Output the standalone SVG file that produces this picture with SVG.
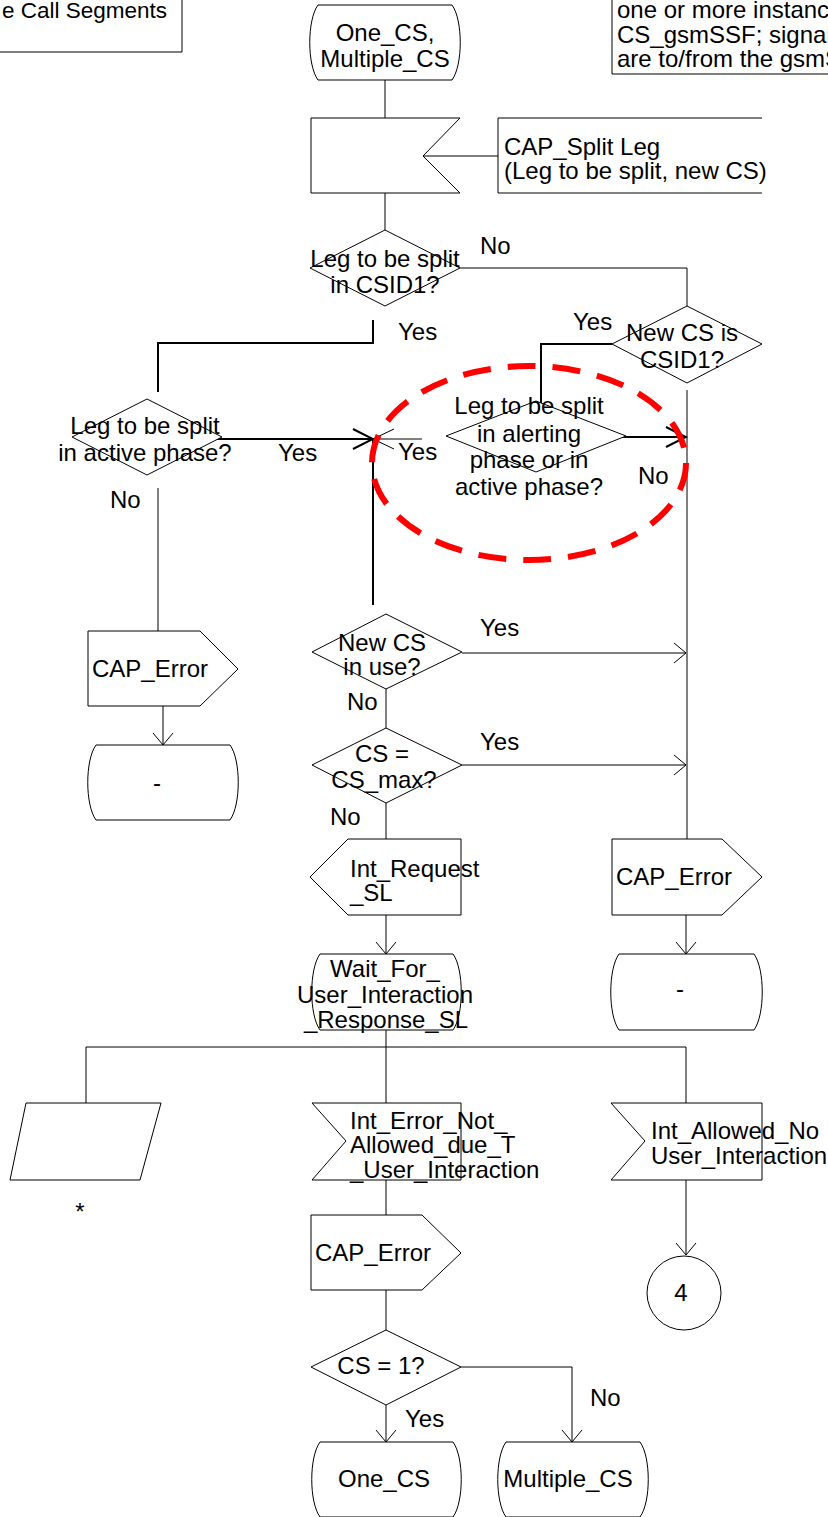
<svg xmlns="http://www.w3.org/2000/svg" width="828" height="1517" viewBox="0 0 828 1517">
<style>
.s{fill:#fff;stroke:#000;stroke-width:1}
.b{fill:none;stroke:#000;stroke-width:1}
.t{font-family:"Liberation Sans",Arial,sans-serif;font-size:24px;fill:#000}
.m{text-anchor:middle}
.c{fill:none;stroke:#000;stroke-width:1}
.c2{fill:none;stroke:#000;stroke-width:2}
</style>
<defs>
<marker id="a" viewBox="-14 -12 16 24" refX="0" refY="0" markerWidth="16" markerHeight="24" markerUnits="userSpaceOnUse" orient="auto">
<path d="M-12,-10 L0,0 L-12,10" fill="none" stroke="#000" stroke-width="1"/>
</marker>
<marker id="ab" viewBox="-22 -12 24 24" refX="0" refY="0" markerWidth="24" markerHeight="24" markerUnits="userSpaceOnUse" orient="auto">
<path d="M-20,-10 L0,0 L-20,10" fill="none" stroke="#000" stroke-width="2"/>
</marker>
<marker id="at" viewBox="-22 -12 24 24" refX="0" refY="0" markerWidth="24" markerHeight="24" markerUnits="userSpaceOnUse" orient="auto">
<path d="M-21,-10 L0,0 L-21,10" fill="none" stroke="#000" stroke-width="1"/>
</marker>
</defs>
<rect width="828" height="1517" fill="#fff"/>

<g id="connectors">
<path class="c" d="M385 80 V118"/>
<path class="c" d="M423 156 H498"/>
<path class="c" d="M385 193 V230"/>
<path class="c" d="M460 268 H687 V306"/>
<path class="c2" d="M373 320 V343 H158 V392"/>
<path class="c2" d="M612 344 H541 V406"/>
<path class="c2" d="M205 439 H373" marker-end="url(#ab)"/>
<path class="c" d="M422 439 H373" stroke="#555" marker-end="url(#at)"/>
<path class="c2" d="M613 437 H686" marker-end="url(#ab)"/>
<path class="c2" d="M373 439 V605"/>
<path class="c" stroke-width="1.5" d="M687 390 V839"/>
<path class="c" d="M158 488 V631"/>
<path class="c" d="M163 706 V745" marker-end="url(#a)"/>
<path class="c" d="M462 653 H686" marker-end="url(#a)"/>
<path class="c" d="M386 689 V728"/>
<path class="c" d="M462 765 H686" marker-end="url(#a)"/>
<path class="c" d="M386 803 V839"/>
<path class="c" d="M386 915 V954" marker-end="url(#a)"/>
<path class="c" d="M686 915 V954" marker-end="url(#a)"/>
<path class="c" d="M386 1030 V1103"/>
<path class="c" d="M86 1103 V1047 H686 V1103"/>
<path class="c" d="M386 1180 V1215"/>
<path class="c" d="M686 1180 V1255" marker-end="url(#a)"/>
<path class="c" d="M386 1290 V1330"/>
<path class="c" d="M386 1405 V1442" marker-end="url(#a)"/>
<path class="c" d="M461 1367 H572 V1442" marker-end="url(#a)"/>
</g>

<g id="note-topleft">
<path class="b" d="M-2 52 H182 V-2"/>
<text class="t" x="167" y="18" text-anchor="end" style="font-size:22.5px">e Call Segments</text>
</g>

<g id="note-topright">
<path class="b" d="M830 74 H612 V-2"/>
<text class="t" x="617" y="18">one or more instanc</text>
<text class="t" x="617" y="43">CS_gsmSSF; signal</text>
<text class="t" x="617" y="67">are to/from the gsmS</text>
</g>

<g id="start-state">
<path class="s" d="M318 5 H452 C463 20 463 65 452 80 H318 C307 65 307 20 318 5 Z"/>
<text class="t m" x="385" y="41">One_CS,</text>
<text class="t m" x="385" y="67">Multiple_CS</text>
</g>

<g id="input-split-leg">
<path class="s" d="M311 118 H460 L423 156 L460 193 H311 Z"/>
</g>

<g id="note-split-leg">
<path class="b" d="M762 118 H498 V193 H762"/>
<text class="t" x="504" y="155">CAP_Split Leg</text>
<text class="t" x="504" y="179">(Leg to be split, new CS)</text>
</g>

<g id="dec-csid1">
<path class="s" d="M385 230 L460 268 L385 306 L310 268 Z"/>
<text class="t m" x="385" y="267">Leg to be split</text>
<text class="t m" x="385" y="293">in CSID1?</text>
</g>
<text class="t" x="480" y="254">No</text>
<text class="t" x="398" y="340">Yes</text>

<g id="dec-newcs-csid1">
<path class="s" d="M687 306 L762 344 L687 383 L612 344 Z"/>
<text class="t m" x="682" y="341">New CS is</text>
<text class="t m" x="682" y="368">CSID1?</text>
</g>
<text class="t" x="573" y="330">Yes</text>

<g id="dec-active">
<path class="s" d="M147 399 L222 437 L147 475 L72 437 Z"/>
<text class="t m" x="145" y="434">Leg to be split</text>
<text class="t m" x="145" y="461">in active phase?</text>
</g>
<text class="t" x="278" y="461">Yes</text>
<text class="t" x="110" y="508">No</text>

<g id="dec-alerting">
<path class="s" d="M536 401 L626 436 L536 472 L446 436 Z"/>
<text class="t m" x="529" y="414">Leg to be split</text>
<text class="t m" x="529" y="442">in alerting</text>
<text class="t m" x="529" y="468">phase or in</text>
<text class="t m" x="529" y="495">active phase?</text>
</g>
<text class="t" x="398" y="460">Yes</text>
<text class="t" x="638" y="484">No</text>

<g id="highlight">
<ellipse cx="529" cy="463" rx="157" ry="97" fill="none" stroke="#ff0000" stroke-width="6" stroke-dasharray="28 17"/>
</g>

<g id="cap-error-left">
<path class="s" d="M88 631 H200 L238 669 L200 706 H88 Z"/>
<text class="t" x="92" y="677">CAP_Error</text>
</g>

<g id="state-dash-left">
<path class="s" d="M96 745 H230 C241 760 241 805 230 820 H96 C85 805 85 760 96 745 Z"/>
<text class="t m" x="157" y="791">-</text>
</g>

<g id="dec-inuse">
<path class="s" d="M386 614 L462 652 L386 689 L312 652 Z"/>
<text class="t m" x="382" y="651">New CS</text>
<text class="t m" x="382" y="675">in use?</text>
</g>
<text class="t" x="480" y="636">Yes</text>
<text class="t" x="347" y="710">No</text>

<g id="dec-csmax">
<path class="s" d="M386 728 L462 765 L386 803 L312 765 Z"/>
<text class="t m" x="382" y="762">CS =</text>
<text class="t m" x="384" y="788">CS_max?</text>
</g>
<text class="t" x="480" y="750">Yes</text>
<text class="t" x="330" y="825">No</text>

<g id="int-request">
<path class="s" d="M310 877 L348 839 H461 V915 H348 Z"/>
<text class="t" x="350" y="877">Int_Request</text>
<text class="t" x="350" y="901">_SL</text>
</g>

<g id="cap-error-right">
<path class="s" d="M612 839 H722 L762 877 L722 915 H612 Z"/>
<text class="t" x="616" y="885">CAP_Error</text>
</g>

<g id="state-wait">
<path class="s" d="M320 954 H453 C464 969 464 1015 453 1030 H320 C309 1015 309 969 320 954 Z"/>
<text class="t m" x="385" y="977">Wait_For_</text>
<text class="t m" x="385" y="1003">User_Interaction</text>
<text class="t m" x="386" y="1028">_Response_SL</text>
</g>

<g id="state-dash-right">
<path class="s" d="M619 954 H754 C765 969 765 1015 754 1030 H619 C608 1015 608 969 619 954 Z"/>
<text class="t m" x="680" y="997">-</text>
</g>

<g id="save-any">
<path class="s" d="M26 1103 H161 L140 1180 H10 Z"/>
<text class="t m" x="80" y="1220">*</text>
</g>

<g id="int-error">
<path class="s" d="M312 1103 H461 V1180 H312 L346 1141 Z"/>
<text class="t" x="350" y="1129">Int_Error_Not_</text>
<text class="t" x="350" y="1153">Allowed_due_T</text>
<text class="t" x="350" y="1178">_User_Interaction</text>
</g>

<g id="int-allowed">
<path class="s" d="M611 1103 H762 V1180 H611 L645 1141 Z"/>
<text class="t" x="651" y="1139">Int_Allowed_No</text>
<text class="t" x="651" y="1164">User_Interaction</text>
</g>

<g id="cap-error-mid">
<path class="s" d="M311 1215 H422 L461 1253 L422 1290 H311 Z"/>
<text class="t" x="315" y="1261">CAP_Error</text>
</g>

<g id="connector-4">
<circle class="s" cx="684" cy="1293" r="37"/>
<text class="t m" x="681" y="1301">4</text>
</g>

<g id="dec-cs1">
<path class="s" d="M386 1330 L461 1367 L386 1405 L311 1367 Z"/>
<text class="t m" x="381" y="1374">CS = 1?</text>
</g>
<text class="t" x="405" y="1427">Yes</text>
<text class="t" x="590" y="1406">No</text>

<g id="state-one-cs">
<path class="s" d="M320 1442 H453 C464 1457 464 1502 453 1517 H320 C309 1502 309 1457 320 1442 Z"/>
<text class="t m" x="384" y="1487">One_CS</text>
</g>

<g id="state-multiple-cs">
<path class="s" d="M506 1442 H640 C651 1457 651 1502 640 1517 H506 C495 1502 495 1457 506 1442 Z"/>
<text class="t m" x="568" y="1487">Multiple_CS</text>
</g>
</svg>
